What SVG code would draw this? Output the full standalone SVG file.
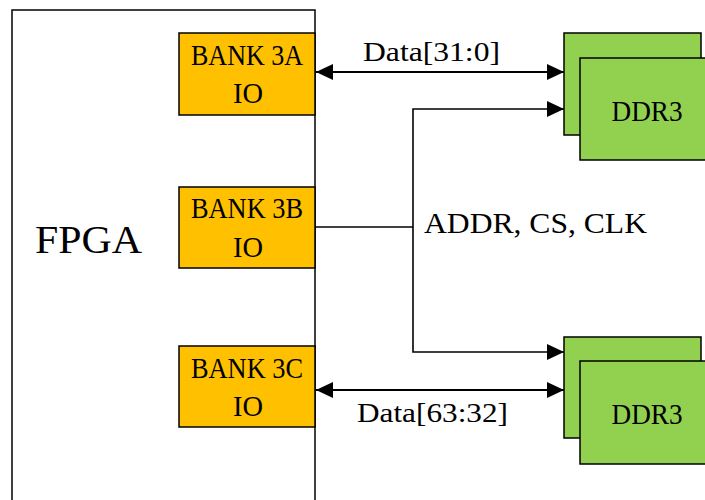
<svg xmlns="http://www.w3.org/2000/svg" width="705" height="500" viewBox="0 0 705 500">
<style>
.bank{fill:#FFC000;stroke:#000;stroke-width:1.5}
.ddr{fill:#92D050;stroke:#000;stroke-width:1.5}
.fpga{fill:#fff;stroke:#000;stroke-width:1.5}
text{font-family:'Liberation Serif','Tinos','DejaVu Serif',serif;fill:#000}
.bt{font-size:30px;text-anchor:middle}
.w{fill:none;stroke:#000;stroke-width:2}
.w2{fill:none;stroke:#000;stroke-width:1.6}
</style>
<defs>
<marker id="ah" markerUnits="userSpaceOnUse" markerWidth="18" markerHeight="16" refX="17" refY="8" orient="auto-start-reverse" viewBox="0 0 18 16">
<path d="M0,0 L17,8 L0,16 Z" fill="#000"/>
</marker>
</defs>
<rect width="705" height="500" fill="#fff"/>
<g id="fpga">
<rect class="fpga" x="12" y="10" width="303" height="500"/>
<text x="35" y="253" font-size="40" font-family="Liberation Serif, serif" textLength="107" lengthAdjust="spacingAndGlyphs">FPGA</text>
</g>
<g id="bank3a">
<rect class="bank" x="179" y="33" width="136" height="82"/>
<text class="bt" x="247" y="65" textLength="112" lengthAdjust="spacingAndGlyphs">BANK 3A</text>
<text class="bt" x="248" y="103" textLength="30" lengthAdjust="spacingAndGlyphs">IO</text>
</g>
<g id="bank3b">
<rect class="bank" x="179" y="187" width="136" height="81"/>
<text class="bt" x="247" y="218" textLength="112" lengthAdjust="spacingAndGlyphs">BANK 3B</text>
<text class="bt" x="248" y="257" textLength="30" lengthAdjust="spacingAndGlyphs">IO</text>
</g>
<g id="bank3c">
<rect class="bank" x="179" y="346" width="136" height="81"/>
<text class="bt" x="247" y="378" textLength="112" lengthAdjust="spacingAndGlyphs">BANK 3C</text>
<text class="bt" x="248" y="416" textLength="30" lengthAdjust="spacingAndGlyphs">IO</text>
</g>
<g id="ddr3top">
<rect class="ddr" x="564" y="33" width="137" height="102"/>
<rect class="ddr" x="580" y="58" width="130" height="102"/>
<text class="bt" x="647" y="121" textLength="71" lengthAdjust="spacingAndGlyphs">DDR3</text>
</g>
<g id="ddr3bottom">
<rect class="ddr" x="564" y="337" width="137" height="101"/>
<rect class="ddr" x="580" y="361" width="130" height="103"/>
<text class="bt" x="647" y="424" textLength="71" lengthAdjust="spacingAndGlyphs">DDR3</text>
</g>
<g id="connectors">
<line class="w" x1="316" y1="72" x2="564" y2="72" marker-start="url(#ah)" marker-end="url(#ah)"/>
<line class="w" x1="316" y1="390" x2="564" y2="390" marker-start="url(#ah)" marker-end="url(#ah)"/>
<polyline class="w2" points="315,227 413,227"/>
<polyline class="w2" points="564,109 413,109 413,352 564,352" marker-start="url(#ah)" marker-end="url(#ah)"/>
<text x="363" y="61" font-size="28" textLength="137" lengthAdjust="spacingAndGlyphs">Data[31:0]</text>
<text x="424" y="233" font-size="30" textLength="223" lengthAdjust="spacingAndGlyphs">ADDR, CS, CLK</text>
<text x="357" y="422" font-size="28" textLength="151" lengthAdjust="spacingAndGlyphs">Data[63:32]</text>
</g>
</svg>
